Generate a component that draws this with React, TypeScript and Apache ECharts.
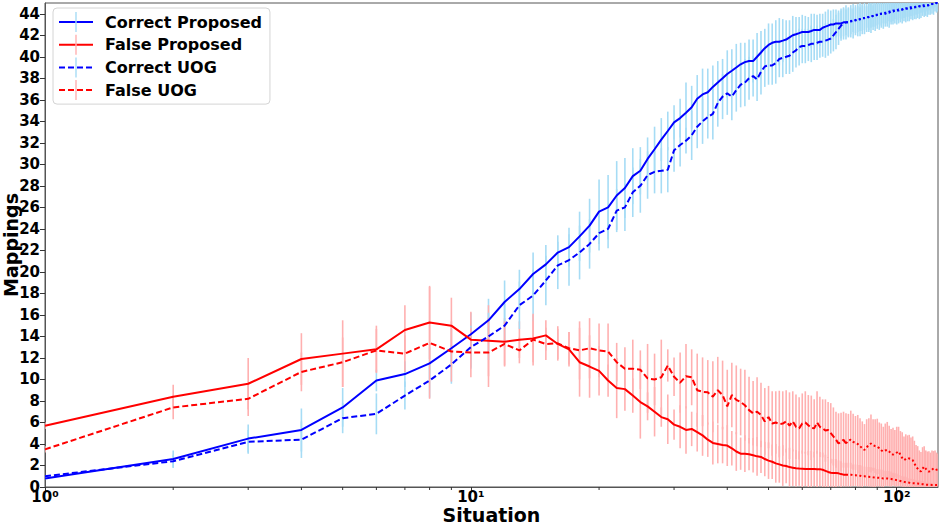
import React, { useEffect, useRef } from "react";
import * as echarts from "echarts";

// Situation index (x, log axis)
const SITUATIONS: number[] = Array.from({ length: 125 }, (_, i) => i + 1);

const SERIES_NAMES = ["Correct Proposed", "False Proposed", "Correct UOG", "False UOG"];

const CORRECT_PROPOSED = [
  0.8, 2.6, 4.5, 5.3, 7.4, 9.9, 10.5, 11.5, 12.9, 14.2,
  15.5, 17.2, 18.4, 19.8, 20.7, 21.8, 22.3, 23.3, 24.3, 25.6,
  26.0, 27.1, 27.8, 28.9, 29.4, 30.5, 31.4, 32.3, 33.1, 33.9,
  34.3, 34.8, 35.3, 36.1, 36.5, 36.7, 37.2, 37.6, 38.0, 38.4,
  38.7, 39.0, 39.3, 39.5, 39.6, 39.6, 40.0, 40.4, 40.8, 41.1,
  41.3, 41.4, 41.4, 41.5, 41.6, 41.8, 42.0, 42.1, 42.2, 42.3,
  42.3, 42.3, 42.4, 42.5, 42.5, 42.5, 42.7, 42.8, 42.9, 43.0,
  43.0, 43.1, 43.1, 43.1, 43.2, 43.2, 43.2, 43.3, 43.4, 43.4,
  43.5, 43.5, 43.6, 43.6, 43.7, 43.7, 43.8, 43.8, 43.9, 43.9,
  44.0, 44.0, 44.0, 44.1, 44.1, 44.2, 44.2, 44.2, 44.3, 44.3,
  44.3, 44.4, 44.4, 44.4, 44.5, 44.5, 44.5, 44.5, 44.6, 44.6,
  44.6, 44.6, 44.7, 44.7, 44.7, 44.7, 44.8, 44.8, 44.8, 44.8,
  44.9, 44.9, 44.9, 45.0, 45.0,
];

const CORRECT_UOG = [
  1.0, 2.4, 4.2, 4.4, 6.4, 6.8, 8.5, 9.9, 11.4, 13.0,
  14.0, 15.0, 16.9, 17.8, 19.2, 20.6, 21.1, 21.8, 22.6, 23.6,
  24.0, 25.7, 26.0, 27.4, 28.0, 29.0, 29.3, 29.4, 29.5, 31.3,
  31.8, 32.2, 32.7, 33.5, 34.0, 34.4, 34.7, 35.7, 36.3, 36.6,
  36.3, 36.9, 37.4, 37.6, 38.0, 38.2, 37.9, 38.6, 39.1, 39.2,
  39.2, 39.4, 39.8, 39.9, 40.0, 40.1, 40.4, 40.6, 40.9, 41.0,
  41.0, 41.1, 41.2, 41.2, 41.3, 41.4, 41.4, 41.5, 41.6, 41.7,
  42.0, 42.3, 42.6, 42.9, 43.1, 43.2, 43.2, 43.3, 43.3, 43.4,
  43.4, 43.5, 43.5, 43.6, 43.6, 43.7, 43.7, 43.8, 43.8, 43.9,
  43.9, 44.0, 44.0, 44.0, 44.1, 44.1, 44.2, 44.3, 44.3, 44.3,
  44.4, 44.4, 44.4, 44.5, 44.5, 44.5, 44.6, 44.6, 44.6, 44.6,
  44.7, 44.7, 44.7, 44.7, 44.8, 44.8, 44.8, 44.8, 44.8, 44.9,
  44.9, 44.9, 45.0, 45.0, 45.0,
];

const FALSE_PROPOSED = [
  5.7, 8.4, 9.6, 11.9, 12.4, 12.8, 14.6, 15.3, 15.0, 13.7,
  13.6, 13.5, 13.7, 13.8, 14.1, 13.3, 12.8, 11.6, 11.2, 10.8,
  9.9, 9.2, 9.1, 8.5, 7.9, 7.5, 7.0, 6.5, 6.3, 5.8,
  5.6, 5.3, 5.4, 5.1, 4.8, 4.4, 4.1, 4.0, 3.9, 3.85,
  3.6, 3.3, 3.1, 3.1, 3.05, 2.95, 2.85, 2.8, 2.6, 2.45,
  2.35, 2.2, 2.1, 2.0, 1.95, 1.85, 1.8, 1.75, 1.72, 1.7,
  1.68, 1.67, 1.67, 1.67, 1.66, 1.66, 1.6, 1.5, 1.4, 1.33,
  1.3, 1.3, 1.27, 1.2, 1.15, 1.15, 1.15, 1.15, 1.1, 1.1,
  1.05, 1.05, 1.0, 1.0, 0.97, 0.95, 0.93, 0.9, 0.88, 0.86,
  0.85, 0.83, 0.8, 0.8, 0.8, 0.78, 0.75, 0.72, 0.68, 0.64,
  0.6, 0.56, 0.52, 0.48, 0.45, 0.42, 0.4, 0.37, 0.35, 0.34,
  0.33, 0.32, 0.3, 0.28, 0.26, 0.24, 0.22, 0.21, 0.2, 0.2,
  0.19, 0.19, 0.19, 0.18, 0.18,
];

const FALSE_UOG = [
  3.5, 7.4, 8.2, 10.7, 11.6, 12.7, 12.4, 13.4, 12.6, 12.5,
  12.5, 13.3, 12.7, 13.7, 13.3, 13.35, 12.9, 12.7, 12.9, 12.7,
  12.6, 11.6, 11.0, 11.0, 10.9, 10.1, 10.0, 10.2, 11.3, 10.25,
  9.7, 10.3, 10.2, 9.0, 8.85, 8.8, 8.4, 9.0, 8.55, 7.5,
  8.55, 8.1, 7.9, 7.6, 7.15, 6.85, 7.0, 6.7, 6.1, 6.5,
  5.9, 6.0, 5.85, 5.9, 6.1, 5.7, 6.1, 5.6, 5.45, 5.9,
  6.0, 5.75, 5.5, 5.45, 6.0, 5.6, 5.45, 5.25, 5.3, 5.0,
  4.7, 4.4, 4.05, 4.2, 4.4, 4.05, 4.3, 4.4, 4.2, 4.1,
  4.0, 3.8, 3.6, 3.45, 3.7, 3.9, 4.05, 3.9, 3.8, 3.75,
  3.6, 3.4, 3.3, 3.4, 3.45, 3.3, 3.1, 3.0, 3.1, 3.2,
  3.3, 3.0, 2.7, 2.5, 2.6, 2.7, 2.65, 2.6, 2.5, 2.2,
  1.9, 1.7, 1.5, 1.45, 1.7, 1.9, 1.7, 1.5, 1.42, 1.5,
  1.6, 1.74, 1.7, 1.6, 1.6,
];

// Standard deviations (error bar half-lengths)
const CORRECT_PROPOSED_STD = [
  0.1, 0.8, 1.3, 2.0, 1.8, 1.0, 1.2, 1.5, 1.8, 2.0,
  2.0, 2.0, 1.8, 2.0, 1.8, 1.6, 1.8, 2.3, 2.5, 3.0,
  3.0, 3.2, 2.8, 2.6, 2.2, 2.0, 2.1, 2.0, 1.8, 1.6,
  1.8, 2.8, 2.0, 2.2, 2.4, 2.2, 2.0, 2.0, 1.8, 2.2,
  2.0, 2.2, 2.0, 1.8, 2.0, 2.0, 2.2, 2.0, 1.8, 2.0,
  1.8, 2.0, 2.2, 2.0, 1.8, 1.6, 1.8, 1.6, 1.5, 1.6,
  1.5, 1.4, 1.6, 1.5, 1.4, 1.5, 1.3, 1.4, 1.5, 1.3,
  1.4, 1.3, 1.2, 1.4, 1.3, 1.2, 1.3, 1.2, 1.1, 1.2,
  1.2, 1.1, 1.2, 1.1, 1.0, 1.2, 1.1, 1.0, 1.1, 1.0,
  1.0, 1.1, 0.9, 1.0, 1.0, 0.9, 1.0, 0.9, 0.8, 0.9,
  0.9, 0.8, 0.9, 0.8, 0.8, 0.7, 0.8, 0.7, 0.8, 0.7,
  0.7, 0.6, 0.7, 0.6, 0.6, 0.5, 0.6, 0.5, 0.5, 0.4,
  0.4, 0.4, 0.3, 0.3, 0.3,
];

const CORRECT_UOG_STD = [
  0.1, 0.6, 1.1, 1.7, 1.4, 1.9, 1.3, 1.6, 1.8, 2.0,
  2.2, 2.0, 2.2, 2.4, 2.3, 2.2, 2.4, 2.5, 2.3, 1.6,
  1.8, 2.0, 2.2, 2.3, 2.5, 2.2, 2.0, 2.1, 2.1, 2.0,
  2.0, 1.2, 2.3, 2.0, 2.1, 2.0, 2.4, 2.2, 2.1, 2.0,
  2.2, 2.0, 2.1, 2.2, 2.0, 1.9, 2.0, 2.1, 1.9, 1.8,
  1.8, 1.9, 1.7, 1.8, 1.6, 1.7, 1.8, 1.6, 1.7, 1.6,
  1.6, 1.5, 1.7, 1.5, 1.6, 1.5, 1.4, 1.6, 1.5, 1.4,
  1.5, 1.6, 1.5, 1.4, 1.5, 1.6, 1.4, 1.5, 1.6, 1.4,
  1.5, 1.6, 1.4, 1.5, 1.3, 1.4, 1.5, 1.3, 1.4, 1.3,
  1.4, 1.3, 1.4, 1.2, 1.3, 1.4, 1.2, 1.3, 1.2, 1.3,
  1.3, 1.2, 1.3, 1.2, 1.3, 1.2, 1.3, 1.1, 1.2, 1.1,
  1.2, 1.1, 1.2, 1.1, 1.0, 1.1, 1.0, 1.1, 0.9, 1.0,
  0.9, 1.0, 0.8, 0.9, 0.8,
];

const FALSE_PROPOSED_STD = [
  0.3, 1.1, 2.4, 2.4, 3.1, 2.2, 2.3, 3.4, 2.6, 2.6,
  3.3, 2.2, 1.7, 2.2, 1.4, 1.4, 1.6, 3.2, 2.9, 2.3,
  1.5, 2.8, 2.0, 1.6, 3.4, 1.3, 2.3, 0.9, 2.3, 1.4,
  2.0, 2.2, 1.6, 1.8, 1.9, 1.6, 2.0, 1.8, 1.7, 1.9,
  1.6, 1.8, 1.5, 1.7, 1.5, 1.6, 1.8, 1.5, 1.6, 1.7,
  1.6, 1.8, 1.7, 1.9, 1.6, 1.8, 1.7, 1.7, 1.6, 1.7,
  1.6, 1.7, 1.7, 1.6, 1.7, 1.6, 1.6, 1.5, 1.4, 1.3,
  1.3, 1.3, 1.2, 1.2, 1.1, 1.1, 1.1, 1.1, 1.0, 1.0,
  1.0, 1.0, 1.0, 0.9, 0.9, 0.9, 0.9, 0.9, 0.9, 0.8,
  0.8, 0.8, 0.8, 0.7, 0.7, 0.7, 0.7, 0.6, 0.6, 0.6,
  0.5, 0.5, 0.5, 0.5, 0.5, 0.4, 0.4, 0.4, 0.4, 0.4,
  0.3, 0.3, 0.3, 0.3, 0.3, 0.3, 0.2, 0.2, 0.2, 0.2,
  0.2, 0.2, 0.2, 0.1, 0.1,
];

const FALSE_UOG_STD = [
  0.3, 1.1, 1.6, 1.8, 2.3, 2.0, 1.7, 5.2, 2.8, 2.3,
  3.2, 2.1, 1.2, 2.4, 1.5, 1.6, 1.5, 2.7, 2.8, 2.5,
  2.6, 1.8, 2.0, 2.7, 1.8, 3.2, 2.4, 3.5, 1.5, 1.8,
  2.8, 3.0, 2.6, 3.4, 3.2, 3.0, 3.3, 3.1, 3.2, 3.4,
  3.0, 3.2, 3.1, 3.3, 3.1, 3.0, 3.2, 3.0, 3.1, 2.9,
  3.0, 2.9, 3.1, 3.0, 2.9, 3.1, 2.8, 3.0, 2.9, 2.8,
  2.9, 2.8, 3.0, 2.7, 2.9, 2.8, 2.7, 2.9, 2.6, 2.8,
  2.7, 2.6, 2.8, 2.7, 2.6, 2.8, 2.5, 2.7, 2.6, 2.5,
  2.7, 2.6, 2.5, 2.4, 2.6, 2.5, 2.7, 2.4, 2.5, 2.6,
  2.4, 2.5, 2.3, 2.5, 2.6, 2.4, 2.3, 2.5, 2.2, 2.4,
  2.3, 2.2, 2.4, 2.2, 2.3, 2.1, 2.2, 2.0, 2.2, 2.1,
  2.0, 2.1, 1.9, 1.8, 2.0, 1.9, 1.7, 1.8, 1.9, 1.7,
  1.8, 1.6, 1.7, 1.6, 1.5,
];

const X_MIN = 1;
const X_MAX = 125;
const X_MAJOR_TICKS = [1, 10, 100];
const X_MINOR_TICKS = [2, 3, 4, 5, 6, 7, 8, 9, 20, 30, 40, 50, 60, 70, 80, 90];
const Y_MIN = 0;
const Y_MAX = 45;
const Y_TICKS = [0, 2, 4, 6, 8, 10, 12, 14, 16, 18, 20, 22, 24, 26, 28, 30, 32, 34, 36, 38, 40, 42, 44];
// From this situation on, the curves are drawn dotted
const TAIL_FROM = 76;

const FONT = "DejaVu Sans";
const BLUE = "#0000ff";
const RED = "#ff0000";
const BLUE_ERR = "#a6dcf5";
const RED_ERR = "#ffb0b0";
const SUP = ["⁰", "¹", "²", "³"];
// legend marker: a thin vertical bar (error-bar cross) inside a square bounding box
const ERR_MARK = "path://M0,10L0,10M20,10L20,10M9.3,0L10.7,0L10.7,20L9.3,20Z";

const App: React.FC = () => {
  const ref = useRef<HTMLDivElement>(null);

  useEffect(() => {
    if (!ref.current) return;
    const chart = echarts.init(ref.current, undefined, { renderer: "svg" });

    const defs = [
      { name: SERIES_NAMES[0], values: CORRECT_PROPOSED, std: CORRECT_PROPOSED_STD, color: BLUE, err: BLUE_ERR, dash: "solid" as any },
      { name: SERIES_NAMES[1], values: FALSE_PROPOSED, std: FALSE_PROPOSED_STD, color: RED, err: RED_ERR, dash: "solid" as any },
      { name: SERIES_NAMES[2], values: CORRECT_UOG, std: CORRECT_UOG_STD, color: BLUE, err: BLUE_ERR, dash: [6, 3] as any },
      { name: SERIES_NAMES[3], values: FALSE_UOG, std: FALSE_UOG_STD, color: RED, err: RED_ERR, dash: [6, 3] as any },
    ];

    const mainSeries: any[] = defs.map((d) => ({
      type: "line",
      name: d.name,
      data: SITUATIONS.filter((x) => x <= TAIL_FROM).map((x) => [x, d.values[x - 1]]),
      showSymbol: false,
      symbol: ERR_MARK,
      lineStyle: { color: d.color, width: 2, type: d.dash },
      itemStyle: { color: d.err, borderWidth: 0 },
      z: 3,
      silent: true,
    }));

    const tailSeries: any[] = defs.map((d) => ({
      type: "line",
      name: d.name,
      data: SITUATIONS.filter((x) => x >= TAIL_FROM).map((x) => [x, d.values[x - 1]]),
      showSymbol: false,
      symbol: "none",
      lineStyle: { color: d.color, width: 2, type: [2, 2.5] },
      itemStyle: { color: d.color },
      z: 3,
      silent: true,
    }));

    const errSeries: any[] = defs.map((d, k) => ({
      type: "custom",
      name: "err" + k,
      data: SITUATIONS.map((x) => [x, d.values[x - 1] - d.std[x - 1], d.values[x - 1] + d.std[x - 1]]),
      encode: { x: 0, y: [1, 2] },
      clip: true,
      z: 1,
      silent: true,
      renderItem: (params: any, api: any) => {
        const x = api.value(0);
        const p1 = api.coord([x, api.value(1)]);
        const p2 = api.coord([x, api.value(2)]);
        return {
          type: "line",
          shape: { x1: p1[0], y1: p1[1], x2: p2[0], y2: p2[1] },
          style: { stroke: d.err, lineWidth: 1.6 },
        };
      },
    }));

    const minorTickSeries: any = {
      type: "custom",
      name: "minorTicks",
      data: X_MINOR_TICKS.map((v) => [v, Y_MIN]),
      encode: { x: 0, y: 1 },
      clip: false,
      z: 5,
      silent: true,
      renderItem: (params: any, api: any) => {
        const p = api.coord([api.value(0), api.value(1)]);
        return {
          type: "line",
          shape: { x1: p[0], y1: p[1], x2: p[0], y2: p[1] + 3 },
          style: { stroke: "#333", lineWidth: 1 },
        };
      },
    };

    chart.setOption({
      animation: false,
      backgroundColor: "#fff",
      textStyle: { fontFamily: FONT },
      grid: {
        left: 45,
        right: 3,
        top: 3,
        bottom: 37,
        outerBoundsMode: "none",
        containLabel: false,
        show: true,
        borderColor: "#555",
        borderWidth: 1,
        backgroundColor: "transparent",
      },
      legend: {
        data: SERIES_NAMES,
        orient: "vertical",
        left: 53,
        top: 8,
        padding: [4, 8, 4, 5],
        itemWidth: 34,
        itemHeight: 25,
        itemGap: 2.7,
        backgroundColor: "#fff",
        borderColor: "#d4d4d4",
        borderWidth: 1,
        borderRadius: 4,
        selectedMode: false,
        textStyle: {
          fontFamily: FONT,
          fontSize: 16,
          fontWeight: "bold",
          color: "#000",
          padding: [0, 0, 0, 7],
        },
      },
      xAxis: {
        type: "log",
        logBase: 10,
        min: X_MIN,
        max: X_MAX,
        name: "Situation",
        nameLocation: "middle",
        nameGap: 18,
        nameMoveOverlap: false,
        nameTextStyle: { fontFamily: FONT, fontSize: 19, lineHeight: 19, fontWeight: "bold", color: "#000" },
        axisLine: { show: true, lineStyle: { color: "#555", width: 1 } },
        axisTick: { show: true, length: 5, customValues: X_MAJOR_TICKS, lineStyle: { color: "#333" } },
        axisLabel: {
          customValues: X_MAJOR_TICKS,
          margin: 3,
          lineHeight: 14,
          fontFamily: FONT,
          fontSize: 15,
          fontWeight: "bold",
          color: "#000",
          formatter: (v: number) => "10" + SUP[Math.round(Math.log10(v))],
        },
        splitLine: { show: false },
      },
      yAxis: {
        type: "value",
        min: Y_MIN,
        max: Y_MAX,
        interval: 2,
        name: "Mappings",
        nameLocation: "middle",
        nameGap: 25,
        nameMoveOverlap: false,
        nameRotate: 90,
        nameTextStyle: { fontFamily: FONT, fontSize: 19, lineHeight: 19, fontWeight: "bold", color: "#000" },
        axisLine: { show: true, lineStyle: { color: "#555", width: 1 } },
        axisTick: { show: true, length: 5, customValues: Y_TICKS, lineStyle: { color: "#333" } },
        axisLabel: {
          customValues: Y_TICKS,
          margin: 5,
          fontFamily: FONT,
          fontSize: 15,
          fontWeight: "bold",
          color: "#000",
        },
        splitLine: { show: false },
      },
      series: [...mainSeries, ...tailSeries, ...errSeries, minorTickSeries],
    });

    return () => chart.dispose();
  }, []);

  return (
    <div
      ref={ref}
      style={{ position: "fixed", left: 0, top: 0, width: "941px", height: "524px", background: "#fff" }}
    />
  );
};

export default App;
